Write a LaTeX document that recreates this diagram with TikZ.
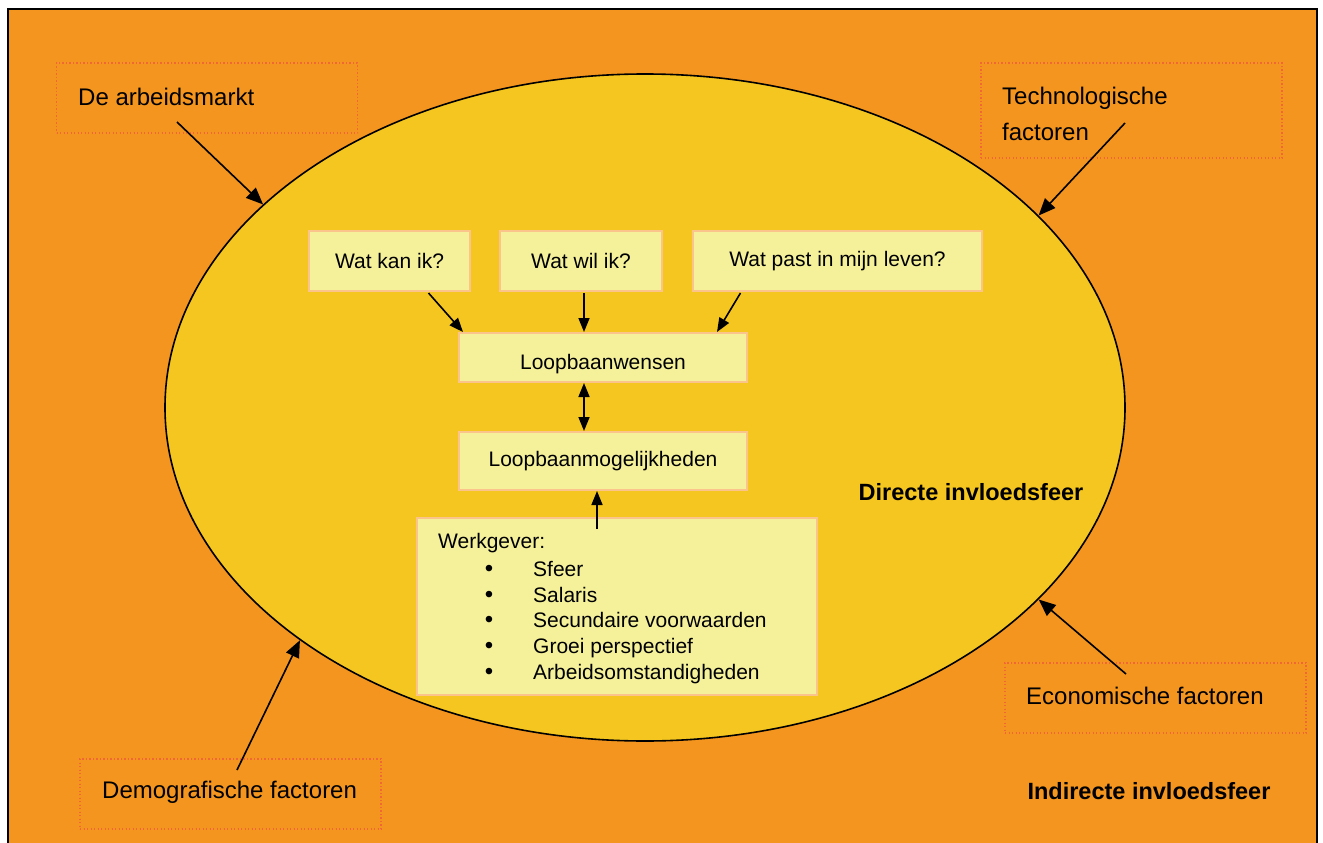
\documentclass[tikz,border=0pt]{standalone}
\usepackage{fontspec}
\setmainfont{Liberation Sans}
\usetikzlibrary{
  arrows.meta,
  positioning,
  shapes.geometric,
  calc
}
\definecolor{outerorange}{RGB}{243,149,30}
\definecolor{innergold}{RGB}{245,198,32}
\definecolor{paleyellow}{RGB}{245,241,155}
\definecolor{boxedge}{RGB}{250,196,140}
\definecolor{dotred}{RGB}{240,102,52}
\tikzset{
  directsphere/.style={ellipse,draw=black,line width=1.6pt,fill=innergold,
    minimum width=960pt,minimum height=667pt,inner sep=0pt},
  factorbox/.style={draw=dotred,line width=1.3pt,dash pattern=on 1.3pt off 2.2pt,
    minimum width=301pt,minimum height=70pt,inner sep=0pt},
  factortext/.style={font=\fontsize{24}{36}\selectfont,anchor=west,inner sep=0pt,align=left},
  askbox/.style={fill=paleyellow,draw=boxedge,line width=2pt,minimum height=60pt,
    inner sep=0pt,font=\fontsize{21}{25}\selectfont},
  listtext/.style={font=\fontsize{21}{25}\selectfont,anchor=west,inner sep=0pt,
    text height=15pt,text depth=4pt},
  spherelabel/.style={font=\bfseries\fontsize{23.5}{28}\selectfont,inner sep=0pt},
  outarrow/.style={-{Triangle[length=17pt,width=14pt]},line width=1.6pt},
  inarrow/.style={-{Triangle[length=14pt,width=11pt]},line width=1.6pt}
}
\newcommand{\wgitem}[3]{%
  \node[listtext,anchor=center,font=\fontsize{24}{25}\selectfont] (bul#1) at (489,#2) {\textbullet};%
  \node[listtext] (item#1) at (533,#2) {#3};%
}

\begin{document}
\begin{tikzpicture}[x=1pt,y=-1pt]
  \useasboundingbox (0,0) rectangle (1323,843);
  \fill[white] (0,0) rectangle (1323,843);
  \draw[fill=outerorange,line width=1.6pt] (8,9) rectangle (1317,870);

  % directe invloedsfeer
  \node[directsphere] (direct) at (645,407.5) {};
  \node[spherelabel] (directlbl) at (971,492) {Directe invloedsfeer};
  \node[spherelabel] (indirectlbl) at (1149,791) {Indirecte invloedsfeer};

  % factoren rondom
  \node[factorbox] (arbeidbox) at (207,98) {};
  \node[factortext] (arbeid) at (78,97) {De arbeidsmarkt};
  \node[factorbox,minimum height=95pt] (techbox) at (1131.5,110.5) {};
  \node[factortext] (tech) at (1002,114) {Technologische\\factoren};
  \node[factorbox] (econbox) at (1155.5,698) {};
  \node[factortext] (econ) at (1026,696) {Economische factoren};
  \node[factorbox] (demobox) at (230.5,794) {};
  \node[factortext] (demo) at (102,792) {Demografische factoren};

  \coordinate (arbeidtail) at (177,122);
  \coordinate (techtail) at (1125,123);
  \coordinate (econtail) at (1126,674);
  \coordinate (demotail) at (237,770);
  \draw[outarrow] (arbeidtail) -- (direct.152.9);
  \draw[outarrow] (techtail) -- (direct.26.2);
  \draw[outarrow] (econtail) -- (direct.-26.1);
  \draw[outarrow] (demotail) -- (direct.214.8);

  % vragen
  \node[askbox,minimum width=161pt] (kan) at (389.5,261) {Wat kan ik?};
  \node[askbox,minimum width=162pt] (wil) at (581,261) {Wat wil ik?};
  \node[askbox,minimum width=289pt] (past) at (837.5,261) {Wat past in mijn leven?};
  \node[askbox,minimum width=288pt,minimum height=49pt,text height=28pt] (wensen) at (603,357.5) {Loopbaanwensen};
  \node[askbox,minimum width=288pt,minimum height=58pt] (mogelijk) at (603,461) {Loopbaanmogelijkheden};

  % werkgever
  \node[askbox,minimum width=400pt,minimum height=177pt] (werkgever) at (617,606.5) {};
  \node[listtext] (wgtitle) at (438,543) {Werkgever:};
  \wgitem{1}{571}{Sfeer}
  \wgitem{2}{596.5}{Salaris}
  \wgitem{3}{622}{Secundaire voorwaarden}
  \wgitem{4}{648}{Groei perspectief}
  \wgitem{5}{674}{Arbeidsomstandigheden}

  \draw[inarrow] ([xshift=39pt,yshift=-1pt]kan.south) -- ([xshift=5pt]wensen.north west);
  \draw[inarrow] ([xshift=3pt,yshift=-1pt]wil.south) -- ([xshift=3pt]wil.south |- wensen.north);
  \draw[inarrow] ([xshift=-97pt,yshift=-1pt]past.south) -- ([xshift=-31pt]wensen.north east);
  \draw[{Triangle[length=14pt,width=11pt]}-{Triangle[length=14pt,width=11pt]},line width=1.6pt]
    ([xshift=3pt]wil.south |- wensen.south) -- ([xshift=3pt]wil.south |- mogelijk.north);
  \draw[inarrow] ([xshift=-20pt,yshift=-12pt]werkgever.north) -- ([xshift=-6pt]mogelijk.south);
\end{tikzpicture}
\end{document}
